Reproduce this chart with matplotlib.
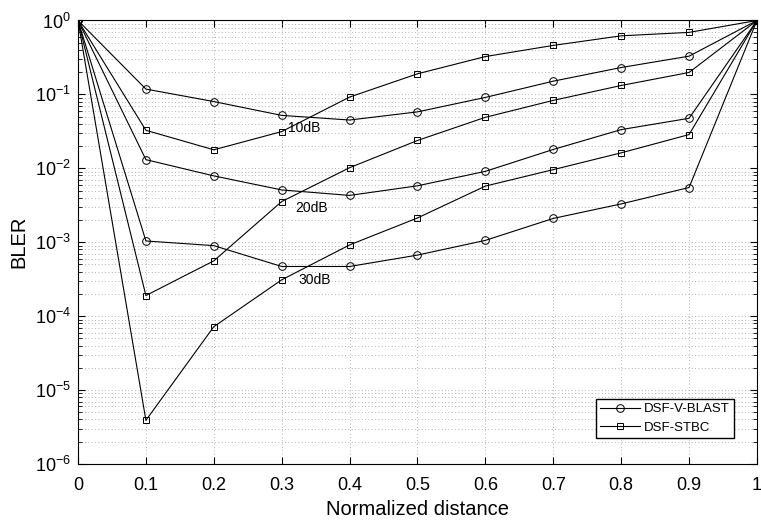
#!/usr/bin/env python3

import matplotlib
matplotlib.use("Agg")
import matplotlib.pyplot as plt
from matplotlib.ticker import LogLocator, NullFormatter

plt.rcParams["font.family"] = ["Liberation Sans", "DejaVu Sans"]
plt.rcParams["mathtext.fontset"] = "custom"
plt.rcParams["mathtext.rm"] = "Liberation Sans"
plt.rcParams["mathtext.it"] = "Liberation Sans:italic"
plt.rcParams["mathtext.bf"] = "Liberation Sans:bold"

distance = [0, 0.1, 0.2, 0.3, 0.4, 0.5, 0.6, 0.7, 0.8, 0.9, 1.0]
distance_labels = ["0", "0.1", "0.2", "0.3", "0.4", "0.5", "0.6", "0.7", "0.8", "0.9", "1"]

# DSF-V-BLAST (circles)
vblast_10db = [1, 0.118, 0.080, 0.052, 0.045, 0.058, 0.091, 0.151, 0.231, 0.329, 1]
vblast_20db = [1, 0.0131, 0.0079, 0.0051, 0.0043, 0.0058, 0.0091, 0.018, 0.0334, 0.0475, 1]
vblast_30db = [1, 0.00104, 0.0009, 0.00047, 0.00047, 0.00067, 0.00106, 0.0021, 0.0033, 0.0055, 1]

# DSF-STBC (squares)
stbc_10db = [1, 0.0327, 0.0178, 0.0314, 0.092, 0.19, 0.325, 0.46, 0.62, 0.69, 1]
stbc_20db = [1, 0.00019, 0.00056, 0.00355, 0.0102, 0.0238, 0.049, 0.083, 0.132, 0.198, 1]
stbc_30db = [1, 3.9e-6, 7.2e-5, 0.00031, 0.00092, 0.00213, 0.00575, 0.0096, 0.0162, 0.0286, 1]

snr_labels = ["10dB", "20dB", "30dB"]
snr_label_pos = [(0.31, 0.0356), (0.32, 0.0029), (0.324, 0.00031)]

fig = plt.figure(figsize=(7.61, 5.21), dpi=100)
ax = fig.add_axes([0.1025, 0.1094, 0.8922, 0.8513])

lw = 0.8
for i, vals in enumerate([vblast_10db, vblast_20db, vblast_30db]):
    ax.plot(distance, vals, color="black", lw=lw, marker="o", markersize=5.5,
            markerfacecolor="none", markeredgewidth=0.7,
            label="DSF-V-BLAST" if i == 0 else None)
for i, vals in enumerate([stbc_10db, stbc_20db, stbc_30db]):
    ax.plot(distance, vals, color="black", lw=lw, marker="s", markersize=4,
            markerfacecolor="none", markeredgewidth=0.7,
            label="DSF-STBC" if i == 0 else None)

for txt, (xp, yp) in zip(snr_labels, snr_label_pos):
    ax.text(xp, yp, txt, fontsize=10, va="center", ha="left")

ax.set_yscale("log")
ax.set_xlim(0, 1)
ax.set_ylim(1e-6, 1)
ax.set_xticks(distance)
ax.set_xticklabels(distance_labels)
ax.yaxis.set_major_locator(LogLocator(base=10, numticks=10))
ax.yaxis.set_minor_locator(LogLocator(base=10, subs=range(2, 10), numticks=20))
ax.yaxis.set_minor_formatter(NullFormatter())

ax.grid(True, which="major", axis="both", linestyle=(0, (1, 3)), color="#999999", lw=0.6)
ax.grid(True, which="minor", axis="y", linestyle=(0, (1, 3)), color="#999999", lw=0.6)
ax.tick_params(which="both", direction="in", top=True, right=True, labelsize=13)
ax.tick_params(which="major", length=5)
ax.tick_params(which="minor", length=3)
ax.tick_params(axis="x", pad=9)
ax.tick_params(axis="y", pad=5)

ax.set_xlabel("Normalized distance", fontsize=14.5, labelpad=5)
ax.set_ylabel("BLER", fontsize=14.5, labelpad=5)

ax.legend(loc="lower right", fontsize=9.5, fancybox=False, edgecolor="black",
          framealpha=1, bbox_to_anchor=(0.9665, 0.058), handlelength=3,
          borderpad=0.35, labelspacing=0.45, handletextpad=0.3,
          borderaxespad=0.0)

fig.savefig("out.png", dpi=100)
